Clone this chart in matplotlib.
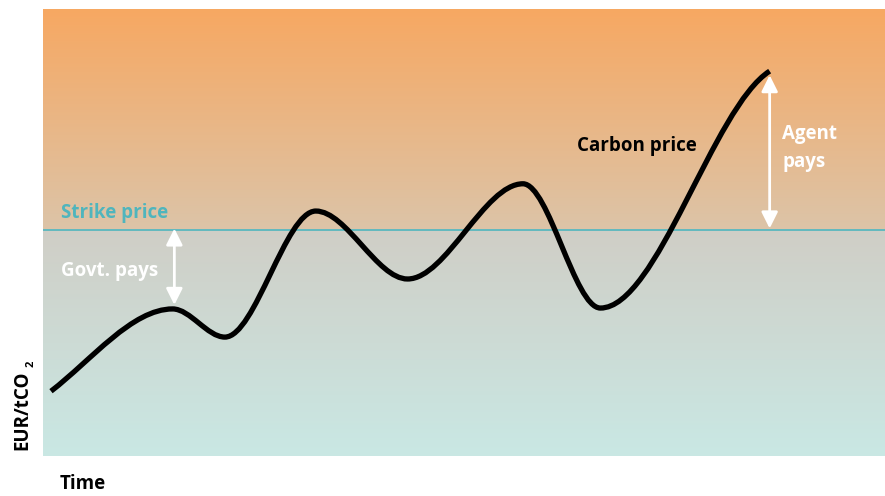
import numpy as np
import matplotlib
matplotlib.use("Agg")
import matplotlib.pyplot as plt
from matplotlib.path import Path
from matplotlib.patches import PathPatch
from matplotlib.colors import LinearSegmentedColormap

# -------------------------------
# Data (time and price in arbitrary units, 0-100)
# -------------------------------
# turning points of the carbon price path, plus start and end
time_pts = [0.95, 15.4, 21.6, 32.4, 43.3, 57.0, 66.2, 86.3]
price_pts = [14.5, 32.9, 26.6, 54.8, 39.6, 60.9, 33.1, 86.1]
start_slope = 1.45   # price units per time unit
end_slope = 1.2
strike_price = 50.6

govt_arrow_time = 15.6
govt_arrow_low = 33.8
agent_arrow_time = 86.3
agent_arrow_high = 85.2

FONT = "Open Sans"
FS = 13.5

# -------------------------------
# Figure & background gradients
# -------------------------------
fig = plt.figure(figsize=(8.85, 4.96), dpi=100)
ax = fig.add_axes([43 / 885, 40 / 496, 842 / 885, 447 / 496])
ax.set_xlim(0, 100)
ax.set_ylim(0, 100)
ax.axis("off")

upper_cmap = LinearSegmentedColormap.from_list("upper", ["#dcc4a8", "#f7a862"])
lower_cmap = LinearSegmentedColormap.from_list("lower", ["#c9e8e4", "#d0cec6"])
grad = np.linspace(0, 1, 256).reshape(-1, 1)
ax.imshow(grad, cmap=upper_cmap, origin="lower", aspect="auto",
          extent=[0, 100, strike_price, 100], zorder=0)
ax.imshow(grad, cmap=lower_cmap, origin="lower", aspect="auto",
          extent=[0, 100, 0, strike_price], zorder=0)

# Strike price line
ax.axhline(strike_price, color="#4fb5bd", lw=1.2, zorder=2)

# -------------------------------
# Carbon price curve: cubic Bezier segments, flat at the turning points
# -------------------------------
t = np.array(time_pts)
p = np.array(price_pts)
slopes = np.zeros(len(t))
slopes[0] = start_slope
slopes[-1] = end_slope

verts = [(t[0], p[0])]
codes = [Path.MOVETO]
for i in range(len(t) - 1):
    dt = (t[i + 1] - t[i]) / 3
    verts += [(t[i] + dt, p[i] + slopes[i] * dt),
              (t[i + 1] - dt, p[i + 1] - slopes[i + 1] * dt),
              (t[i + 1], p[i + 1])]
    codes += [Path.CURVE4] * 3
curve = PathPatch(Path(verts, codes), facecolor="none", edgecolor="black",
                  lw=3.8, capstyle="butt", joinstyle="round", zorder=3)
ax.add_patch(curve)

# -------------------------------
# Payment arrows
# -------------------------------
arrow_style = dict(arrowstyle="<|-|>,head_length=0.7,head_width=0.35",
                   mutation_scale=14, color="white", lw=2,
                   shrinkA=0, shrinkB=0)
ax.annotate("", xy=(govt_arrow_time, govt_arrow_low),
            xytext=(govt_arrow_time, strike_price + 0.3),
            arrowprops=arrow_style, zorder=4)
ax.annotate("", xy=(agent_arrow_time, agent_arrow_high),
            xytext=(agent_arrow_time, strike_price + 0.3),
            arrowprops=arrow_style, zorder=4)

# -------------------------------
# Labels
# -------------------------------
ax.text(2.1, 54.3, "Strike price", color="#4fb5bd", fontsize=FS,
        fontweight="bold", family=FONT, va="center", zorder=5)
ax.text(2.1, 41.3, "Govt. pays", color="white", fontsize=FS,
        fontweight="bold", family=FONT, va="center", zorder=5)
ax.text(63.4, 69.3, "Carbon price", color="black", fontsize=FS,
        fontweight="bold", family=FONT, va="center", zorder=5)
ax.text(87.8, 68.9, "Agent\npays", color="white", fontsize=FS,
        fontweight="bold", family=FONT, va="center", linespacing=1.5,
        zorder=5)

fig.text(60 / 885, 1 - 484 / 496, "Time", color="black", fontsize=FS,
         fontweight="bold", family=FONT, va="center", ha="left")
fig.text(22 / 885, 1 - 410 / 496, "EUR/tCO", color="black", fontsize=FS,
         fontweight="bold", family=FONT, va="center", ha="center",
         rotation=90)
fig.text(31 / 885, 1 - 364 / 496, "2", color="black", fontsize=8,
         fontweight="bold", family=FONT, va="center", ha="center",
         rotation=90)

fig.savefig("out.png", dpi=100)
